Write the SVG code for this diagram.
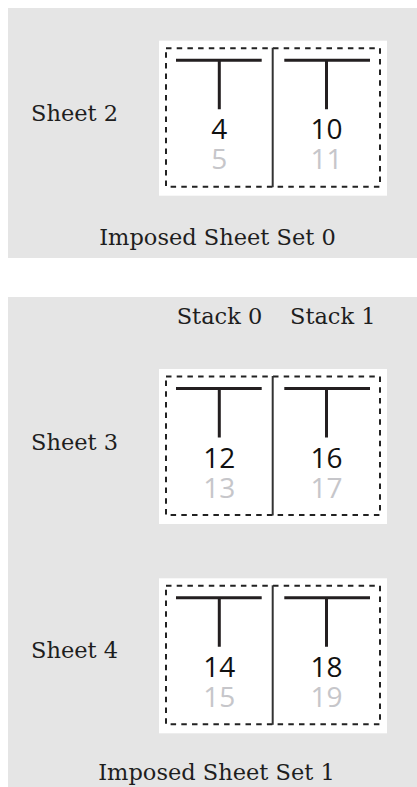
<svg xmlns="http://www.w3.org/2000/svg" xmlns:xlink="http://www.w3.org/1999/xlink" width="417" height="787" viewBox="0 0 417 787">
<style>
.panel{fill:#e5e5e5}
.lbl{font-family:"DejaVu Serif","Liberation Serif",serif;font-size:22.5px;fill:#1e1e1e}
.num{font-family:"Open Sans","Noto Sans",sans-serif;font-size:28px;text-anchor:middle;fill:#111}
.num2{font-family:"Open Sans","Noto Sans",sans-serif;font-size:28px;text-anchor:middle;fill:#c6c6ca}
.paper{fill:#fff}
.trim{fill:none;stroke:#222;stroke-width:2;stroke-dasharray:5.5 5.2}
.fold{stroke:#333;stroke-width:2}
.tee{stroke:#231f20;stroke-width:3;fill:none}
</style>
<defs>
<g id="sheetBase">
<rect class="paper" x="159" y="0" width="228" height="155"/>
<rect class="trim" x="166" y="7.5" width="214" height="138.5"/>
<line class="fold" x1="272.7" y1="7" x2="272.7" y2="146.5"/>
<path class="tee" d="M176 19.5H261.7M219.3 19.5V68.5"/>
<path class="tee" d="M284.3 19.5H370M326.5 19.5V68.5"/>
</g>
</defs>
<g id="set0">
<rect class="panel" x="8" y="8" width="409" height="250"/>
<g id="sheet2" transform="translate(0,40.7)">
<use xlink:href="#sheetBase" href="#sheetBase"/>
<text class="num" x="219.3" y="98.5">4</text>
<text class="num2" x="219.3" y="128.5">5</text>
<text class="num" x="326.5" y="98.5">10</text>
<text class="num2" x="326.5" y="128.5">11</text>
<text class="lbl" x="31" y="80">Sheet 2</text>
</g>
<text id="set0-label" class="lbl" x="217.5" y="245" text-anchor="middle">Imposed Sheet Set 0</text>
</g>
<g id="set1">
<rect class="panel" x="8" y="297" width="409" height="490"/>
<text id="stack0" class="lbl" x="176.7" y="324.3">Stack 0</text>
<text id="stack1" class="lbl" x="290" y="324.3">Stack 1</text>
<g id="sheet3" transform="translate(0,369)">
<use xlink:href="#sheetBase" href="#sheetBase"/>
<text class="num" x="219.3" y="98.5">12</text>
<text class="num2" x="219.3" y="128.5">13</text>
<text class="num" x="326.5" y="98.5">16</text>
<text class="num2" x="326.5" y="128.5">17</text>
<text class="lbl" x="31" y="80.5">Sheet 3</text>
</g>
<g id="sheet4" transform="translate(0,578.3)">
<use xlink:href="#sheetBase" href="#sheetBase"/>
<text class="num" x="219.3" y="98.5">14</text>
<text class="num2" x="219.3" y="128.5">15</text>
<text class="num" x="326.5" y="98.5">18</text>
<text class="num2" x="326.5" y="128.5">19</text>
<text class="lbl" x="31" y="79.5">Sheet 4</text>
</g>
<text id="set1-label" class="lbl" x="216.5" y="780" text-anchor="middle">Imposed Sheet Set 1</text>
</g>
<g id="connectors"/>
</svg>
